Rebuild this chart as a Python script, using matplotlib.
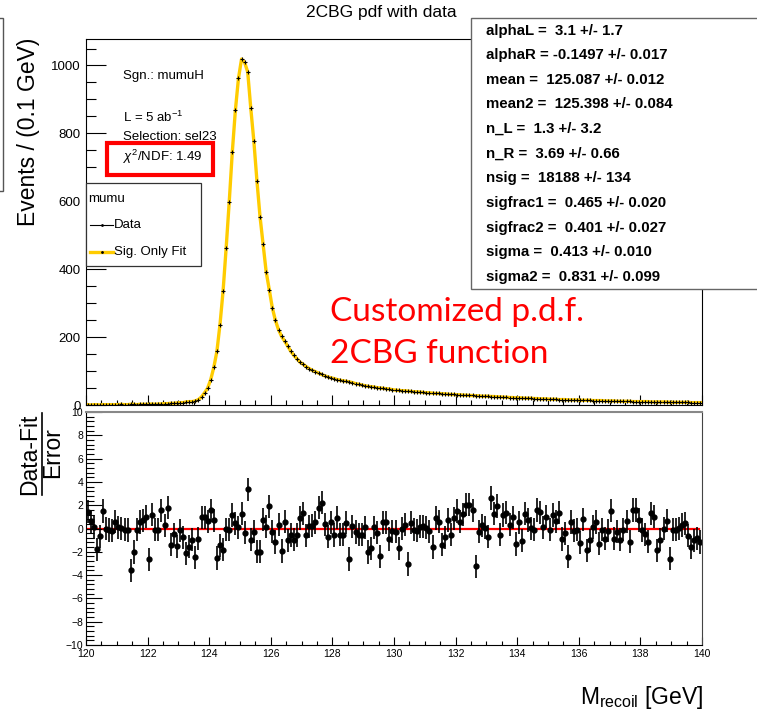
import numpy as np
import matplotlib
matplotlib.use("Agg")
from matplotlib import pyplot as plt
from matplotlib.lines import Line2D
from matplotlib.patches import Rectangle

plt.rcParams['font.family'] = ['Liberation Sans', 'DejaVu Sans']
plt.rcParams['mathtext.fontset'] = 'custom'
plt.rcParams['mathtext.rm'] = 'Liberation Sans'
plt.rcParams['mathtext.it'] = 'Liberation Sans:italic'

# binning: 200 bins of 0.1 GeV between 120 and 140
x_lo, x_hi, n_bins = 120.0, 140.0, 200
bin_centers = x_lo + 0.05 + 0.1 * np.arange(n_bins)

# events per bin
events = [
    1, 0, 1, 1, 0, 1, 1, 1, 1, 1, 1, 2, 1, 1, 2, 2, 1, 2, 2, 2,
    2, 3, 2, 3, 3, 4, 4, 5, 5, 6,
    7, 7, 9, 10, 10, 12, 16, 24, 36, 50,
    75, 111, 158, 237, 335, 462, 598, 745, 868, 962,
    1019, 1009, 981, 874, 777, 660, 555, 473, 392, 340,
    286, 249, 222, 202, 188, 173, 158, 146, 136, 126,
    120, 113, 107, 102, 98, 94, 90, 86, 83, 80,
    78, 75, 73, 71, 70, 68, 66, 63, 61, 59,
    57, 55, 54, 53, 51, 50, 49, 48, 47, 45,
    44, 43, 42, 42, 41, 40, 39, 39, 38, 37,
    36, 36, 35, 34, 34, 33, 33, 32, 31, 31,
    30, 30, 29, 29, 28, 28, 27, 27, 26, 26,
    26, 25, 25, 24, 24, 23, 23, 22, 22, 21,
    21, 21, 20, 20, 20, 19, 19, 18, 18, 18,
    17, 17, 17, 16, 16, 16, 15, 15, 15, 15,
    14, 14, 14, 14, 13, 13, 13, 13, 12, 12,
    12, 12, 11, 11, 11, 11, 11, 10, 10, 10,
    10, 10, 10, 9, 9, 9, 9, 9, 9, 8,
    8, 8, 8, 8, 8, 8, 7, 7, 7, 7,
]

# (data - fit) / error per bin
pulls = [
    1.43, 0.63, 0.14, -1.80, -0.66, 1.49, 0.00, -0.14, -0.20, 0.60,
    0.11, 0.03, -0.09, -0.14, -3.58, -2.03, -0.09, 0.57, 0.69, 1.03,
    -2.64, 1.20, -0.11, -0.11, 1.55, 0.26, 1.80, -1.38, -0.49, -1.52,
    -0.17, -0.77, -2.12, -1.55, -0.97, -2.46, -0.86, 0.97, 0.97, 0.63,
    1.55, 0.69, -2.52, -1.43, -1.83, -0.06, -0.11, 1.15, 0.43, 0.09,
    1.26, -0.37, 3.35, -0.95, -0.26, -1.98, -1.98, 0.77, 0.17, 1.89,
    -0.26, -1.15, 0.34, -1.92, 0.60, -1.00, -0.57, -0.95, -0.57, 0.89,
    1.29, -0.60, 0.20, 0.23, 0.54, 1.78, 2.23, 0.37, -0.69, 0.54,
    -0.57, 0.92, -0.54, -0.54, 0.49, -2.61, 0.20, -0.31, -0.54, -0.54,
    0.11, -2.03, -1.69, 0.09, -0.37, -2.38, 0.54, 0.54, -0.89, -0.23,
    -0.26, -1.69, -0.03, 0.34, -3.04, 0.49, -0.09, -0.20, 0.17, 0.20,
    0.06, -0.23, -1.58, 0.89, 0.60, -1.40, -0.75, 0.74, -0.54, 0.86,
    1.49, 0.60, 1.23, 2.06, 2.06, 1.55, -3.24, -0.26, 0.26, 0.06,
    -0.69, 2.63, 1.26, 1.92, -0.52, 1.15, 1.35, 0.34, 0.97, -1.32,
    0.54, -1.06, 1.26, 0.74, 0.03, -0.09, 1.58, 1.40, 0.11, 1.03,
    -0.09, 1.17, 0.63, 1.35, -0.89, -0.40, -2.41, 0.57, -0.20, -0.11,
    -1.23, 0.80, -1.86, -1.03, 0.14, 0.57, -1.29, -0.09, -0.86, -0.20,
    1.52, -0.86, -0.26, -0.95, -0.11, 0.63, -1.12, 1.58, 1.58, 0.72,
    -0.14, -0.49, -1.12, 1.29, 1.03, -1.86, -0.95, 0.00, 0.66, -2.58,
    -0.11, -0.11, 0.03, 0.31, 0.43, -0.63, -1.63, -1.00, -0.83, -1.17,
]

fit_params = [
    "alphaL =  3.1 +/- 1.7",
    "alphaR = -0.1497 +/- 0.017",
    "mean =  125.087 +/- 0.012",
    "mean2 =  125.398 +/- 0.084",
    "n_L =  1.3 +/- 3.2",
    "n_R =  3.69 +/- 0.66",
    "nsig =  18188 +/- 134",
    "sigfrac1 =  0.465 +/- 0.020",
    "sigfrac2 =  0.401 +/- 0.027",
    "sigma =  0.413 +/- 0.010",
    "sigma2 =  0.831 +/- 0.099",
]

W, H = 757, 711
fig = plt.figure(figsize=(W / 100, H / 100), dpi=100)


def fx(px):
    return px / W


def fy(py):
    return 1 - py / H


fit_color = '#FFCC00'

# upper panel
ax1 = fig.add_axes([fx(86), fy(405), fx(702) - fx(86), fy(39) - fy(405)])
ax1.plot(bin_centers, events, color=fit_color, lw=2.4, zorder=2)
ax1.plot(bin_centers, events, ls='none', marker='+', ms=3.5, mew=0.8,
         color='black', zorder=3)
ax1.set_xlim(x_lo, x_hi)
ax1.set_ylim(0, 1078)
ax1.set_yticks([0, 200, 400, 600, 800, 1000])
ax1.set_yticks(np.arange(0, 1078, 50), minor=True)
ax1.set_xticks(np.arange(120, 141, 2))
ax1.set_xticks(np.arange(120, 140.1, 0.5), minor=True)
ax1.tick_params(which='both', direction='in', top=False, right=False,
                labelbottom=False, width=0.8, labelsize=9.5)
ax1.yaxis.set_tick_params(which='major', length=14.4, pad=4)
ax1.yaxis.set_tick_params(which='minor', length=7.2)
ax1.xaxis.set_tick_params(which='major', length=7)
ax1.xaxis.set_tick_params(which='minor', length=3.6)
for s in ax1.spines.values():
    s.set_linewidth(0.8)

# legend box (ROOT style, drawn by hand)
fig.add_artist(Rectangle((fx(86), fy(266)), fx(201) - fx(86),
                         fy(183) - fy(266), transform=fig.transFigure,
                         facecolor='white', edgecolor='#333333', lw=0.9,
                         zorder=5))
fig.text(fx(88), fy(199), 'mumu', ha='left', va='center', fontsize=9.5,
         zorder=6)
fig.add_artist(Line2D([fx(90), fx(113)], [fy(225), fy(225)], color='black',
                      lw=0.8, transform=fig.transFigure, zorder=6))
fig.add_artist(Line2D([fx(101.5)], [fy(225)], color='black', marker='.',
                      ms=2, transform=fig.transFigure, zorder=6))
fig.text(fx(114), fy(225), 'Data', ha='left', va='center', fontsize=9.5,
         zorder=6)
fig.add_artist(Line2D([fx(90), fx(113)], [fy(252), fy(252)], color=fit_color,
                      lw=2.4, transform=fig.transFigure, zorder=6))
fig.add_artist(Line2D([fx(101.5)], [fy(252)], color='black', marker='.',
                      ms=2, transform=fig.transFigure, zorder=6))
fig.text(fx(114), fy(252), 'Sig. Only Fit', ha='left', va='center',
         fontsize=9.5, zorder=6)

# lower panel
ax2 = fig.add_axes([fx(86), fy(645), fx(702) - fx(86), fy(412) - fy(645)])
ax2.axhline(0, xmin=0, xmax=0.995, color='red', lw=1.6, zorder=1.5)
ax2.errorbar(bin_centers, pulls, yerr=1, fmt='o', ms=3.5, color='black',
             elinewidth=1.2, capsize=0, zorder=2)
ax2.set_xlim(x_lo, x_hi)
ax2.set_ylim(-10, 10)
ax2.set_yticks(np.arange(-10, 11, 2))
ax2.set_yticks(np.arange(-10, 10.01, 0.4), minor=True)
ax2.set_xticks(np.arange(120, 141, 2))
ax2.set_xticks(np.arange(120, 140.1, 0.5), minor=True)
ax2.tick_params(which='both', direction='in', top=False, right=False,
                width=0.8, labelsize=7.5)
ax2.yaxis.set_tick_params(which='major', length=11.5, pad=2)
ax2.yaxis.set_tick_params(which='minor', length=5.8)
ax2.xaxis.set_tick_params(which='major', length=5.8, pad=3)
ax2.xaxis.set_tick_params(which='minor', length=2.9)
for s in ax2.spines.values():
    s.set_linewidth(0.8)
ax2.spines['top'].set_color('#888888')
ax2.spines['top'].set_linewidth(1.5)
ax2.spines['right'].set_color('#444444')

# titles and labels
fig.text(fx(381), fy(12), '2CBG pdf with data', ha='center', va='center',
         fontsize=12.5)
fig.text(fx(29), fy(38), 'Events / (0.1 GeV)', rotation=90, ha='center',
         va='top', fontsize=16.5)
fig.text(fx(30), fy(454), 'Data-Fit', rotation=90, ha='center',
         va='center', fontsize=16.5)
fig.text(fx(53), fy(453), 'Error', rotation=90, ha='center',
         va='center', fontsize=16.5)
fig.add_artist(Line2D([fx(42), fx(42)], [fy(413), fy(495)], color='black',
                      lw=1.2, transform=fig.transFigure))
fig.text(fx(703), fy(704), r'M$_{\mathrm{recoil}}$ [GeV]', ha='right',
         va='baseline', fontsize=16.5)

# info text
for txt, ypx in [('Sgn.: mumuH', 76), (r'L = 5 ab$^{-1}$', 117),
                 ('Selection: sel23', 137), (r'$\chi^{2}$/NDF: 1.49', 157)]:
    fig.text(fx(123), fy(ypx), txt, ha='left', va='center', fontsize=9.5)
fig.add_artist(Rectangle((fx(107), fy(175)), fx(213) - fx(107),
                         fy(143) - fy(175), transform=fig.transFigure,
                         fill=False, edgecolor='red', lw=3, zorder=6))

# parameter box
fig.add_artist(Rectangle((fx(471), fy(289)), fx(900) - fx(471),
                         fy(18) - fy(289), transform=fig.transFigure,
                         facecolor='white', edgecolor='#666666', lw=1,
                         zorder=5))
for i, txt in enumerate(fit_params):
    fig.text(fx(486), fy(30.7 + 24.6 * i), txt, ha='left', va='center',
             fontsize=10.8, fontweight='bold', zorder=6)

# partial box at left edge
fig.add_artist(Rectangle((fx(-50), fy(190.5)), fx(53.3), fy(18) - fy(190.5),
                         transform=fig.transFigure, fill=False,
                         edgecolor='#555555', lw=1, zorder=5))

# annotation
fig.text(fx(330), fy(321), 'Customized p.d.f.', color='red', fontsize=24,
         family='Lato', va='baseline')
fig.text(fx(330), fy(363), '2CBG function', color='red', fontsize=24,
         family='Lato', va='baseline')

fig.savefig('out.png', dpi=100)
